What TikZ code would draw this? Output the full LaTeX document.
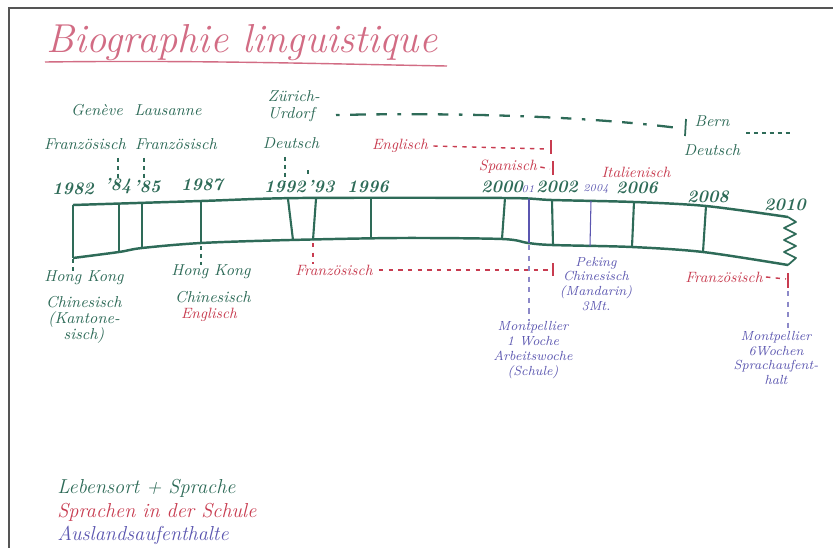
\documentclass[tikz,border=0pt]{standalone}
\definecolor{gr}{HTML}{2E6B58}
\definecolor{rd}{HTML}{C83C50}
\definecolor{bl}{HTML}{5B56B0}
\definecolor{pk}{HTML}{D26C84}
\definecolor{frame}{HTML}{555555}
\begin{document}
\begin{tikzpicture}[x=0.02cm,y=-0.02cm,
  gtxt/.style={text=gr,font=\fontsize{9}{10}\selectfont\itshape,inner sep=0pt,align=center},
  year/.style={text=gr,font=\fontsize{10}{11}\selectfont\bfseries\itshape,inner sep=0pt},
  byear/.style={text=bl,font=\fontsize{6}{7}\selectfont\itshape,inner sep=0pt},
  rtxt/.style={text=rd,font=\fontsize{8.5}{10}\selectfont\itshape,inner sep=0pt},
  btxt/.style={text=bl,font=\fontsize{7.5}{8.5}\selectfont\itshape,inner sep=0pt,align=center},
  legtxt/.style={font=\fontsize{11.5}{13}\selectfont\itshape,inner sep=0pt,anchor=west},
  tline/.style={draw=gr,line width=1.4pt,line join=round},
  tick/.style={draw=gr,line width=1.2pt},
  btick/.style={draw=bl,line width=0.6pt},
  gdot/.style={draw=gr,line width=1pt,dash pattern=on 2.5pt off 2pt},
  glong/.style={draw=gr,line width=1.3pt,dash pattern=on 2pt off 6pt on 9pt off 6pt on 6pt off 6pt},
  rdot/.style={draw=rd,line width=0.8pt,dash pattern=on 2.5pt off 3pt},
  rbar/.style={draw=rd,line width=0.9pt},
  bdot/.style={draw=bl!70,line width=0.6pt,dash pattern=on 3pt off 3pt}
]
\useasboundingbox (0,0) rectangle (833,548);
\fill[white] (0,0) rectangle (833,548);
\draw[frame,line width=1.4pt] (9,548) -- (9,8) -- (833,8);

% title
\node[text=pk,font=\fontsize{23}{27}\selectfont\itshape,inner sep=0pt,anchor=base west] (title) at (46,52) {Biographie linguistique};
\draw[pk,line width=0.8pt] (45,62) .. controls (200,60) and (330,64) .. (447,66);

% timeline body
\draw[tline] plot[smooth] coordinates {(73,205) (201,201) (300,198) (505,198) (552,200) (634,202) (706,206) (788,217)};
\draw[tline] plot[smooth] coordinates {(73,258) (119,252) (142,248) (201,243) (290,240) (400,238) (502,239) (528,243) (552,245) (632,247) (703,252) (788,265)};
\draw[tick] (73,205) -- (73,258);
\draw[tick] (119,204) -- (119,252);
\draw[tick] (142,203) -- (142,248);
\draw[tick] (201,201) -- (201,244);
\draw[tick] (288,199) -- (293,240);
\draw[tick] (316,199) -- (313,240);
\draw[tick] (371,198) -- (371,238);
\draw[tick] (505,198) -- (502,239);
\draw[btick] (529,199) -- (529,243);
\draw[tick] (552,200) -- (553,245);
\draw[btick] (591,201) -- (590,246);
\draw[tick] (634,202) -- (632,247);
\draw[tick] (706,206) -- (703,252);
\draw[draw=gr,line width=1pt,line join=round] (788,217) -- (796,222) -- (784,228) -- (796,234) -- (784,240) -- (796,246) -- (784,252) -- (796,258) -- (788,265);

% years
\node[year] (y82) at (73,189) {1982};
\node[year] (y84) at (118,186) {'84};
\node[year] (y85) at (147,187) {'85};
\node[year] (y87) at (202,185) {1987};
\node[year] (y92) at (285,187) {1992};
\node[year] (y93) at (321,187) {'93};
\node[year] (y96) at (368,187) {1996};
\node[year] (y00) at (502,187) {2000};
\node[byear] (y01) at (528,189) {01};
\node[year] (y02) at (557,187) {2002};
\node[byear] (y04) at (596,189) {2004};
\node[year] (y06) at (637,188) {2006};
\node[year] (y08) at (708,197) {2008};
\node[year] (y10) at (785,205) {2010};

% places and languages above
\node[gtxt] (geneve) at (97,110) {Genève};
\node[gtxt] (lausanne) at (168,110) {Lausanne};
\node[gtxt] (fr1) at (85,144) {Französisch};
\node[gtxt] (fr2) at (176,144) {Französisch};
\node[gtxt,align=left] (zurich) at (294,106) {Zürich-\\Urdorf};
\node[gtxt] (de1) at (291,143) {Deutsch};
\node[gtxt] (bern) at (712,121) {Bern};
\node[gtxt] (de2) at (712,150) {Deutsch};

\draw[gdot] (fr1.south -| y84.north) ++(0,8) coordinate (a84) (a84) -- (y84.north);
\draw[gdot] (fr2.south -| y85.north) ++(-3,8) coordinate (a85) (a85) -- ([xshift=-3*0.02cm]y85.north);
\draw[gdot] (de1.south -| y92.north) ++(0,8) coordinate (a92) (a92) -- (y92.north);
\coordinate (a93) at (308,170);
\coordinate (b93) at (308,177);
\draw[gdot] (a93) -- (b93);

\coordinate (gs) at (336,115);
\coordinate (ge) at (678,128);
\draw[glong] (gs) .. controls (480,112) and (600,118) .. (ge);
\coordinate (gbt) at (686,119);
\coordinate (gbb) at (685,136);
\draw[draw=gr,line width=1pt] (gbt) -- (gbb);
\coordinate (bs) at (746,133);
\coordinate (be) at (792,133);
\draw[gdot] (bs) -- (be);

% school languages above
\node[rtxt] (eng) at (400,146) {Englisch};
\node[rtxt] (spa) at (508,167) {Spanisch};
\node[rtxt] (ital) at (636,172) {Italienisch};
\coordinate (engE) at (548,149);
\draw[rdot] ([xshift=5*0.02cm]eng.east) -- (engE);
\draw[rbar] (551,140) -- (551,154);
\coordinate (spaE) at (550,169);
\draw[rdot] ([xshift=3*0.02cm]spa.east) -- (spaE);
\draw[rbar] (553,161) -- (553,175);

% below
\node[gtxt] (hk1) at (84,278) {Hong Kong};
\node[gtxt] (chin1) at (84,320) {Chinesisch\\[-1pt](Kantone-\\[-1pt]sisch)};
\node[gtxt] (hk2) at (211,272) {Hong Kong};
\node[gtxt] (chin2) at (213,297) {Chinesisch};
\node[rtxt] (eng2) at (209,315) {Englisch};
\draw[gdot] (73,259) -- (hk1.north -| 73,0);
\draw[gdot] (201,246) -- (hk2.north -| 201,0);

\node[rtxt] (frz) at (334,270) {Französisch};
\draw[rdot] (313,243) -- (frz.north -| 313,0);
\coordinate (frzE) at (550,270);
\draw[rdot] ([xshift=6*0.02cm]frz.east) -- (frzE);
\draw[rbar] (553,263) -- (553,276);

\node[rtxt] (frz2) at (724,277) {Französisch};
\coordinate (frz2E) at (786,279);
\draw[rdot] ([xshift=3*0.02cm]frz2.east) -- (frz2E);
\draw[rbar] (788,273) -- (788,288);

\node[btxt] (mont1) at (533,350) {Montpellier\\1 Woche\\Arbeitswoche\\(Schule)};
\node[btxt] (peking) at (596,284) {Peking\\Chinesisch\\(Mandarin)\\3Mt.};
\node[btxt] (mont2) at (776,358) {Montpellier\\6Wochen\\Sprachaufent-\\halt};
\draw[bdot] (529,245) -- (mont1.north -| 529,0);
\draw[bdot] (788,291) -- (mont2.north -| 788,0);

% legend
\node[legtxt,text=gr] (leg1) at (57,488) {Lebensort + Sprache};
\node[legtxt,text=rd] (leg2) at (57,512) {Sprachen in der Schule};
\node[legtxt,text=bl] (leg3) at (57,535) {Auslandsaufenthalte};
\end{tikzpicture}
\end{document}
